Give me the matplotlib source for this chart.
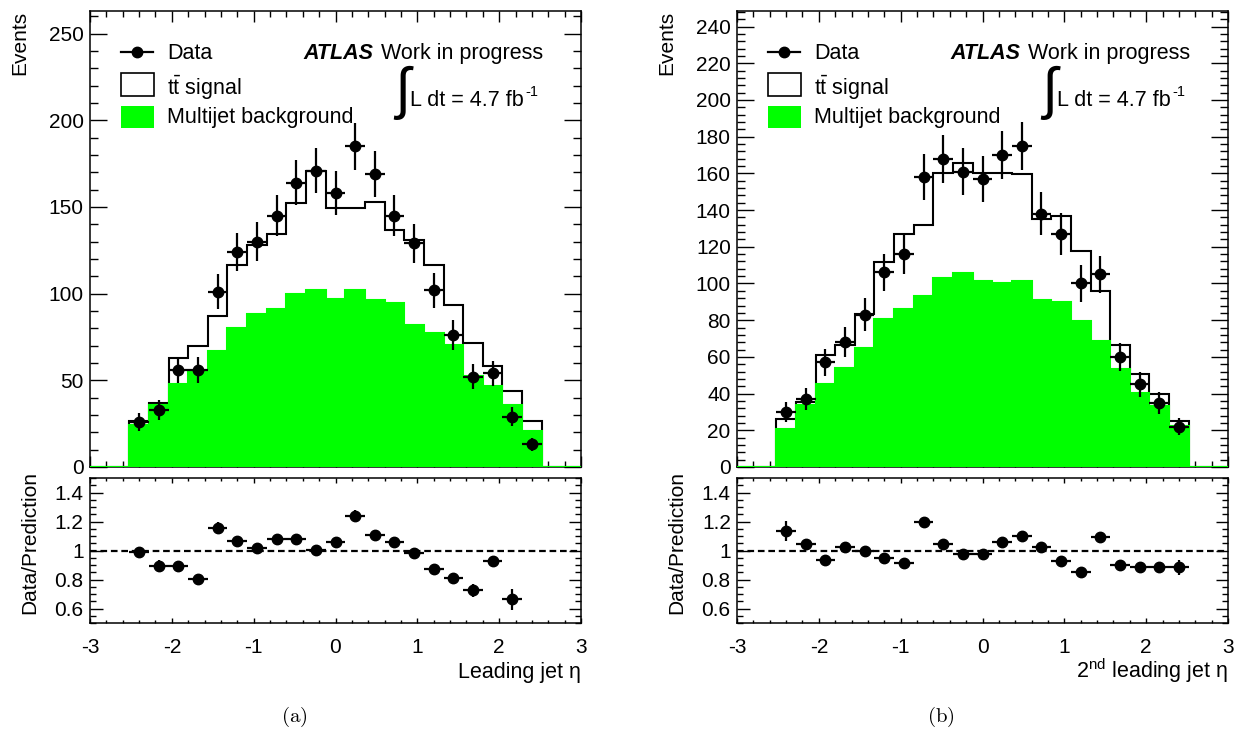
import numpy as np
import matplotlib
matplotlib.use("Agg")
import matplotlib.pyplot as plt
from matplotlib.ticker import MultipleLocator, FuncFormatter
from matplotlib.patches import Rectangle
from matplotlib.lines import Line2D

plt.rcParams['font.family'] = ['Liberation Sans', 'DejaVu Sans']
plt.rcParams['mathtext.fontset'] = 'custom'
plt.rcParams['mathtext.rm'] = 'Liberation Sans'
plt.rcParams['mathtext.it'] = 'Liberation Sans:italic'
plt.rcParams['mathtext.bf'] = 'Liberation Sans:bold'
plt.rcParams['axes.unicode_minus'] = False

# ---------------- data ----------------
# 25 bins of width 0.24 between eta = -3 and 3
bin_edges = np.linspace(-3.0, 3.0, 26)

# (a) leading jet eta
data_a = [0, 0, 26, 33, 56, 56, 101, 124, 130, 145, 164, 171, 158, 185, 169, 145,
          129, 102, 76, 52, 54, 29, 13, 0, 0]
pred_total_a = [0, 0, 26.3, 37, 62.8, 69.5, 87.3, 116.5, 128, 134.4, 152, 170.8,
                149.3, 149.3, 152.6, 136.7, 131, 116.5, 93.5, 71.6, 58.2, 43.8, 26.3, 0, 0]
multijet_a = [0, 0, 24.0, 35.5, 47.7, 55.4, 66.7, 80, 88, 91.3, 100, 102, 97.1, 102,
              96.5, 94.8, 81.7, 77.5, 70.2, 52.3, 46.7, 35.6, 20.6, 0, 0]
ratio_err_a = [0, 0, 0.02, 0.043, 0.025, 0.034, 0.038, 0.025, 0.025, 0.02, 0.02, 0.02,
               0.02, 0.038, 0.025, 0.02, 0.025, 0.025, 0.03, 0.045, 0.02, 0.07, 0.08, 0, 0]

# (b) 2nd leading jet eta
data_b = [0, 0, 30, 37, 57, 68, 83, 106, 116, 158, 168, 161, 157, 170, 175, 138,
          127, 100, 105, 60, 45, 35, 22, 0, 0]
pred_total_b = [0, 0, 26.4, 35.5, 60.9, 66.4, 83.3, 111.8, 126.9, 131.8, 160.4, 165.5,
                160.4, 160.4, 159.5, 134.9, 136.7, 117.8, 95.8, 66.7, 50.9, 39.6, 24.9, 0, 0]
multijet_b = [0, 0, 20.9, 33.6, 45.5, 53.8, 64.9, 80.4, 86, 93.1, 103.1, 105.5, 101.3,
              100, 101.3, 90.9, 89.8, 79.5, 68.5, 53.3, 40.4, 33.1, 22.2, 0, 0]
ratio_err_b = [0, 0, 0.07, 0.025, 0.02, 0.02, 0.02, 0.02, 0.02, 0.03, 0.02, 0.025,
               0.02, 0.02, 0.02, 0.02, 0.02, 0.02, 0.02, 0.02, 0.03, 0.04, 0.05, 0, 0]

x_ticks = [-3, -2, -1, 0, 1, 2, 3]
ratio_ticks = [0.6, 0.8, 1.0, 1.2, 1.4]

W, H = 1248, 733
fig = plt.figure(figsize=(W / 100, H / 100), dpi=100)


def fx(px):
    return px / W


def fy(py):
    return 1 - py / H


GREEN = '#00ff00'
FS = 15


def style_axis(ax, ymaj_len, ymin_len, xmaj_len, xminor_len):
    ax.tick_params(which='both', direction='in', top=True, right=True,
                   labelsize=FS, width=1.0)
    ax.tick_params(which='major', axis='y', length=ymaj_len, pad=4.5)
    ax.tick_params(which='minor', axis='y', length=ymin_len)
    ax.tick_params(which='major', axis='x', length=xmaj_len, pad=7.5)
    ax.tick_params(which='minor', axis='x', length=xminor_len)
    for s in ax.spines.values():
        s.set_linewidth(1.1)


def panel(dx, data, total, bkg, rerr, ymax, ymaj, ymin, xlabel, tag):
    data = np.asarray(data, float)
    total = np.asarray(total, float)
    bkg = np.asarray(bkg, float)
    rerr = np.asarray(rerr, float)
    centers = 0.5 * (bin_edges[:-1] + bin_edges[1:])
    halfw = 0.5 * np.diff(bin_edges)
    m = data > 0

    ax = fig.add_axes([fx(90 + dx), fy(467), 491 / W, 456 / H])
    ax.stairs(total, bin_edges, color='black', linewidth=1.5, zorder=2)
    ax.stairs(bkg, bin_edges, fill=True, facecolor=GREEN, edgecolor=GREEN,
              linewidth=1.5, zorder=3)
    ax.errorbar(centers[m], data[m], yerr=np.sqrt(data[m]), xerr=halfw[m],
                fmt='o', color='black', ms=7.5, elinewidth=1.6, capsize=0, zorder=5)
    ax.set_xlim(-3, 3)
    ax.set_ylim(0, ymax)
    ax.xaxis.set_major_locator(MultipleLocator(1))
    ax.xaxis.set_minor_locator(MultipleLocator(0.2))
    ax.yaxis.set_major_locator(MultipleLocator(ymaj))
    ax.yaxis.set_minor_locator(MultipleLocator(ymin))
    style_axis(ax, 12, 6, 8, 4)
    ax.tick_params(axis='x', labelbottom=False)

    # ratio panel
    rx = fig.add_axes([fx(90 + dx), fy(623), 491 / W, 145 / H])
    with np.errstate(divide='ignore', invalid='ignore'):
        ratio = data / total
    rm = m & (ratio > 0.5)
    rx.errorbar(centers[rm], ratio[rm], yerr=rerr[rm], xerr=halfw[rm],
                fmt='o', color='black', ms=7.5, elinewidth=1.6, capsize=0, zorder=5)
    rx.axhline(1.0, color='black', linewidth=1.6, dashes=(3, 1.7), zorder=3)
    rx.set_xlim(-3, 3)
    rx.set_ylim(0.5, 1.5)
    rx.set_xticks(x_ticks)
    rx.xaxis.set_minor_locator(MultipleLocator(0.2))
    rx.set_yticks(ratio_ticks)
    rx.yaxis.set_minor_locator(MultipleLocator(0.05))
    rx.yaxis.set_major_formatter(FuncFormatter(lambda v, p: '%g' % v))
    rx.xaxis.set_major_formatter(FuncFormatter(lambda v, p: '%g' % v))
    style_axis(rx, 9, 4.5, 3.5, 2)
    rx.tick_params(which='major', axis='x', pad=10.5)

    # axis titles
    fig.text(fx(20 + dx), fy(11), 'Events', rotation=90, ha='center', va='top',
             fontsize=FS)
    fig.text(fx(30 + dx), fy(471), 'Data/Prediction', rotation=90, ha='center',
             va='top', fontsize=FS)
    fig.text(fx(581 + dx), fy(678), xlabel, ha='right', va='baseline', fontsize=15.5)
    fig.text(fx(294 + dx), fy(717), r'$\mathrm{%s}$' % tag, ha='center', va='center',
             fontsize=15, math_fontfamily='cm')

    # legend
    fig.add_artist(Line2D([fx(121 + dx), fx(153 + dx)], [fy(52), fy(52)],
                          color='black', linewidth=1.6, transform=fig.transFigure))
    fig.add_artist(Line2D([fx(137 + dx)], [fy(52)], marker='o', ms=7.5, color='black',
                          transform=fig.transFigure))
    fig.add_artist(Rectangle((fx(121 + dx), fy(96)), 33 / W, 23 / H, facecolor='white',
                             edgecolor='black', linewidth=1.2,
                             transform=fig.transFigure))
    fig.add_artist(Rectangle((fx(121 + dx), fy(128)), 33 / W, 22 / H, facecolor=GREEN,
                             edgecolor='none', transform=fig.transFigure))
    fig.text(fx(167 + dx), fy(59), 'Data', ha='left', va='baseline', fontsize=15.5)
    fig.text(fx(167 + dx), fy(95), r'$\mathrm{t\bar{t}}$ signal', ha='left',
             va='baseline', fontsize=15.5)
    fig.text(fx(167 + dx), fy(123), 'Multijet background', ha='left', va='baseline',
             fontsize=15.5)

    # ATLAS label
    fig.text(fx(303 + dx), fy(59), 'ATLAS', ha='left', va='baseline', fontsize=15.5,
             fontweight='bold', fontstyle='italic')
    fig.text(fx(381 + dx), fy(59), 'Work in progress', ha='left', va='baseline',
             fontsize=15.5)
    fig.text(fx(402 + dx), fy(93), '\u222B', ha='center', va='center', fontsize=40,
             family=['Roboto', 'DejaVu Sans'])
    fig.text(fx(410 + dx), fy(106.5), 'L dt = 4.7 fb', ha='left',
             va='baseline', fontsize=15.5)
    fig.text(fx(525 + dx), fy(96), '-1', ha='left', va='baseline', fontsize=10.5)
    return ax, rx


panel(0, data_a, pred_total_a, multijet_a, ratio_err_a, 263, 50, 10,
      'Leading jet \u03b7', '(a)')
panel(647, data_b, pred_total_b, multijet_b, ratio_err_b, 248.5, 20, 4,
      '2$^{\\mathrm{nd}}$ leading jet \u03b7', '(b)')

fig.savefig('out.png', dpi=100)
